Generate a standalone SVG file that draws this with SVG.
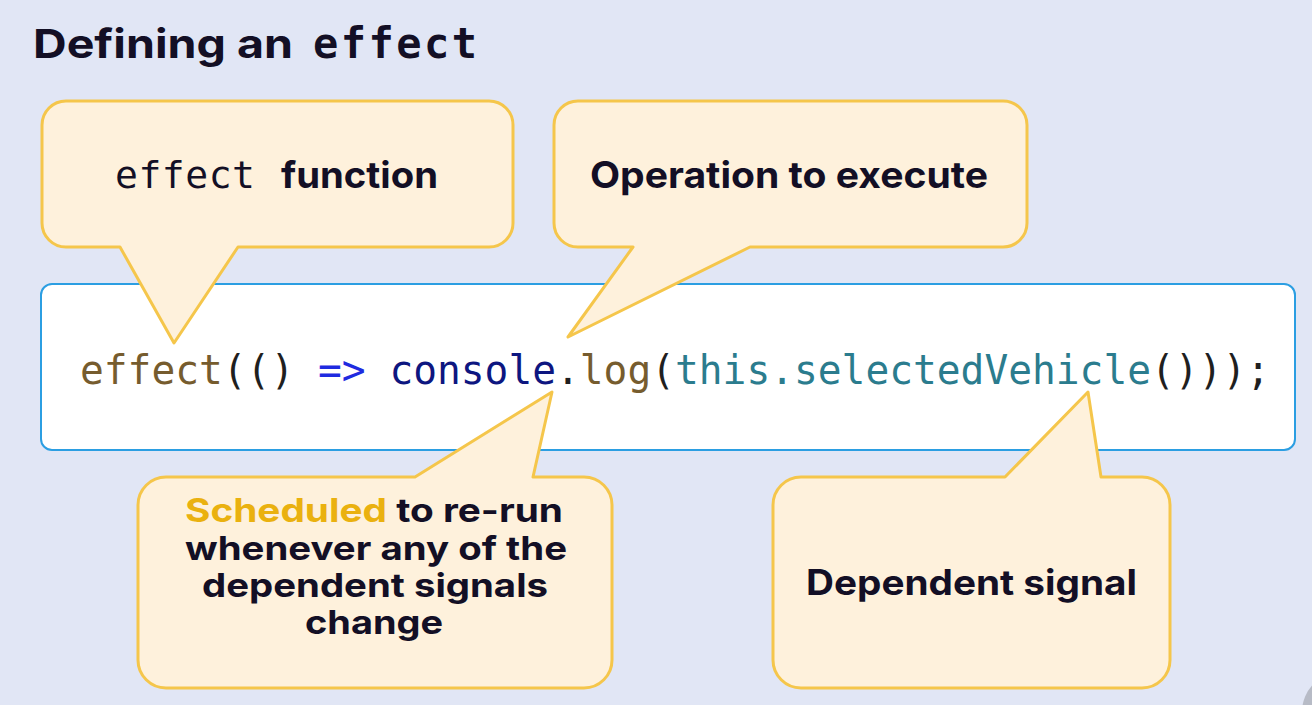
<svg xmlns="http://www.w3.org/2000/svg" width="1312" height="705" viewBox="0 0 1312 705">
  <style>
    .callout { fill: #fef1dc; stroke: #f5c64b; stroke-width: 3; stroke-linejoin: round; }
    .sans { font-family: Inter, "Liberation Sans", sans-serif; font-weight: 700; fill: #130f25; }
    .mono { font-family: "DejaVu Sans Mono", "Liberation Mono", monospace; }
    .code { font-family: "DejaVu Sans Mono", "Liberation Mono", monospace; font-size: 40px; fill: #1f1f1f; }
    .fn { fill: #765c2e; }
    .kw { fill: #1f2be0; }
    .obj { fill: #0d1680; }
    .prop { fill: #2b7c8e; }
    .hl { fill: #eab10f; }
  </style>
  <rect x="0" y="0" width="1312" height="705" fill="#e1e6f5"/>
  <circle cx="1342" cy="712" r="40" fill="#b7bbc6"/>

  <g id="title">
    <text class="sans" x="33" y="58" font-size="40" textLength="260" lengthAdjust="spacingAndGlyphs">Defining an</text>
    <text class="mono" x="313" y="58" font-size="42" font-weight="700" fill="#130f25" textLength="164" lengthAdjust="spacing">effect</text>
  </g>

  <g id="code-box">
    <rect x="41" y="284" width="1254" height="166" rx="11" fill="#ffffff" stroke="#2b9ee2" stroke-width="2"/>
    <text class="code" x="80" y="384" textLength="1190" lengthAdjust="spacingAndGlyphs"><tspan class="fn">effect</tspan>(() <tspan class="kw">=&gt;</tspan> <tspan class="obj">console</tspan>.<tspan class="fn">log</tspan>(<tspan class="prop">this.selectedVehicle</tspan>()));</text>
  </g>

  <g id="connectors">
    <!-- callout tails are part of each callout shape -->
  </g>

  <g id="callout-effect-function">
    <path class="callout" d="M66,101 H489 A24,24 0 0 1 513,125 V223 A24,24 0 0 1 489,247 H238 L174,343 L120,247 H66 A24,24 0 0 1 42,223 V125 A24,24 0 0 1 66,101 Z"/>
    <text class="mono" x="115" y="188" font-size="38" fill="#130f25" textLength="140" lengthAdjust="spacing">effect</text>
    <text class="sans" x="281" y="188" font-size="37" textLength="157" lengthAdjust="spacingAndGlyphs">function</text>
  </g>

  <g id="callout-operation">
    <path class="callout" d="M578,101 H1003 A24,24 0 0 1 1027,125 V223 A24,24 0 0 1 1003,247 H750 L568,337 L633,247 H578 A24,24 0 0 1 554,223 V125 A24,24 0 0 1 578,101 Z"/>
    <text class="sans" x="590" y="188" font-size="37" textLength="398" lengthAdjust="spacingAndGlyphs">Operation to execute</text>
  </g>

  <g id="callout-scheduled">
    <path class="callout" d="M166,477 H415 L552,392 L533,477 H584 A28,28 0 0 1 612,505 V660 A28,28 0 0 1 584,688 H166 A28,28 0 0 1 138,660 V505 A28,28 0 0 1 166,477 Z"/>
    <text class="sans" x="185" y="522" font-size="33" textLength="378" lengthAdjust="spacingAndGlyphs"><tspan class="hl">Scheduled</tspan> to re-run</text>
    <text class="sans" x="185" y="560" font-size="33" textLength="382" lengthAdjust="spacingAndGlyphs">whenever any of the</text>
    <text class="sans" x="202" y="597" font-size="33" textLength="346" lengthAdjust="spacingAndGlyphs">dependent signals</text>
    <text class="sans" x="305" y="634" font-size="33" textLength="138" lengthAdjust="spacingAndGlyphs">change</text>
  </g>

  <g id="callout-dependent">
    <path class="callout" d="M801,477 H1005 L1088,392 L1101,477 H1142 A28,28 0 0 1 1170,505 V660 A28,28 0 0 1 1142,688 H801 A28,28 0 0 1 773,660 V505 A28,28 0 0 1 801,477 Z"/>
    <text class="sans" x="806" y="595" font-size="35" textLength="331" lengthAdjust="spacingAndGlyphs">Dependent signal</text>
  </g>
</svg>
